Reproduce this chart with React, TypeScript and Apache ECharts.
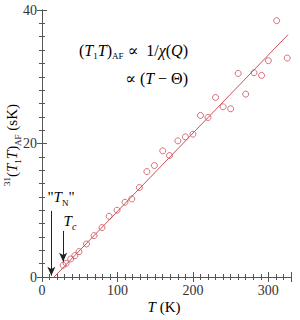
import React, { useEffect, useRef } from "react";
import * as echarts from "echarts";

const tempK = [28, 32, 38, 43.5, 49, 59, 69, 79.5, 89, 99.5, 110, 119, 129, 139, 149, 160, 169, 180, 190, 200, 210, 220, 230, 240, 250, 260, 270, 281, 291, 300, 311, 325];
const t1tAF = [1.75, 2.05, 2.7, 3.2, 3.8, 4.95, 6.2, 7.4, 9.1, 10.0, 11.2, 11.7, 13.4, 15.8, 16.7, 18.9, 18.2, 20.4, 21.0, 21.4, 24.2, 23.9, 26.9, 25.5, 25.2, 30.5, 27.4, 30.6, 30.2, 32.4, 38.4, 32.8];
const fitT = [16, 326];
const fitY = [0, 36.3];
const xTicks = [0, 100, 200, 300];
const yTicks = [0, 20, 40];
const tnArrow = { t: 12.4, from: 9.9, to: 0.2 };
const tcArrow = { t: 28, from: 6.9, to: 2.3 };

const SERIF = "'Liberation Serif', 'DejaVu Serif', serif";
const RED = "#c9505a";
const AXIS = "#555";

export default function App() {
  const ref = useRef<HTMLDivElement>(null);
  useEffect(() => {
    if (!ref.current) return;
    const chart = echarts.init(ref.current, null, { renderer: "svg" });
    const baseRich = {
      n: { fontFamily: SERIF, fontSize: 15, color: "#222", lineHeight: 20, verticalAlign: "middle" },
      i: { fontFamily: SERIF, fontSize: 15, fontStyle: "italic", color: "#222", lineHeight: 20 },
      sub: { fontFamily: SERIF, fontSize: 9, color: "#222", lineHeight: 20, verticalAlign: "bottom" },
      isub: { fontFamily: SERIF, fontSize: 10, fontStyle: "italic", color: "#222", lineHeight: 20, verticalAlign: "bottom" },
      sup: { fontFamily: SERIF, fontSize: 9, color: "#222", lineHeight: 20, verticalAlign: "top" },
    };
    const big = { ...baseRich, n: { ...baseRich.n, fontSize: 16 }, i: { ...baseRich.i, fontSize: 16 } };
    const mirrorAxis = {
      axisLine: { show: true, lineStyle: { color: AXIS, width: 1 } },
      axisTick: { show: true, inside: true, length: 5, lineStyle: { color: AXIS } },
      minorTick: { show: true, splitNumber: 10, length: 3, lineStyle: { color: AXIS } },
      axisLabel: { show: false },
      splitLine: { show: false },
      minorSplitLine: { show: false },
    };
    const labelStyle = { fontFamily: SERIF, fontSize: 14, color: "#333" };
    chart.setOption({
      animation: false,
      grid: { left: 42, right: 9, top: 10, bottom: 43 },
      xAxis: [
        {
          type: "value",
          min: 0,
          max: 330,
          interval: 100,
          ...mirrorAxis,
          axisLabel: {
            show: true,
            ...labelStyle,
            margin: 6,
            formatter: (v: number) => (xTicks.includes(v) ? String(v) : ""),
          },
        },
        { type: "value", position: "top", min: 0, max: 330, interval: 100, ...mirrorAxis },
      ],
      yAxis: [
        {
          type: "value",
          min: 0,
          max: 40,
          interval: 20,
          ...mirrorAxis,
          axisLabel: {
            show: true,
            ...labelStyle,
            margin: 5,
            formatter: (v: number) => (yTicks.includes(v) ? String(v) : ""),
          },
        },
        { type: "value", position: "right", min: 0, max: 40, interval: 20, ...mirrorAxis },
      ],
      series: [
        {
          type: "line",
          data: fitT.map((t, k) => [t, fitY[k]]),
          symbol: "none",
          lineStyle: { color: RED, width: 1 },
          silent: true,
          z: 2,
          markLine: {
            silent: true,
            symbol: ["none", "arrow"],
            symbolSize: [6, 9],
            label: { show: false },
            lineStyle: { color: "#222", width: 1, type: "solid" },
            data: [
              [{ coord: [tnArrow.t, tnArrow.from] }, { coord: [tnArrow.t, tnArrow.to] }],
              [{ coord: [tcArrow.t, tcArrow.from] }, { coord: [tcArrow.t, tcArrow.to] }],
            ],
          },
        },
        {
          type: "scatter",
          data: tempK.map((t, k) => [t, t1tAF[k]]),
          symbol: "circle",
          symbolSize: 6,
          itemStyle: { color: "rgba(255,255,255,0)", borderColor: RED, borderWidth: 1 },
          z: 3,
        },
      ],
      graphic: [
        {
          type: "text",
          x: 12,
          y: 145,
          rotation: Math.PI / 2,
          style: {
            text: "{sup|31}{n|(}{i|T}{sub|1}{i|T}{n|)}{sub|AF}{n| (sK)}",
            rich: baseRich,
            align: "center",
            verticalAlign: "middle",
          },
        },
        {
          type: "text",
          x: 164,
          y: 307,
          style: { text: "{i|T}{n| (K)}", rich: baseRich, align: "center", verticalAlign: "middle" },
        },
        {
          type: "text",
          x: 188,
          y: 50,
          style: {
            text: "{n|(}{i|T}{sub|1}{i|T}{n|)}{sub|AF}{n| ∝  1/}{i|χ}{n|(}{i|Q}{n|)}",
            rich: big,
            align: "right",
            verticalAlign: "middle",
          },
        },
        {
          type: "text",
          x: 188,
          y: 78,
          style: { text: "{n|∝ (}{i|T}{n| − Θ)}", rich: big, align: "right", verticalAlign: "middle" },
        },
        {
          type: "text",
          x: 61,
          y: 197,
          style: { text: "{n|\"}{i|T}{sub|N}{n|\"}", rich: baseRich, align: "center", verticalAlign: "middle" },
        },
        {
          type: "text",
          x: 70,
          y: 221,
          style: { text: "{i|T}{isub|c}", rich: baseRich, align: "center", verticalAlign: "middle" },
        },
      ],
    });
    return () => chart.dispose();
  }, []);
  return <div ref={ref} style={{ position: "absolute", left: 0, top: 0, width: 300, height: 320 }} />;
}
